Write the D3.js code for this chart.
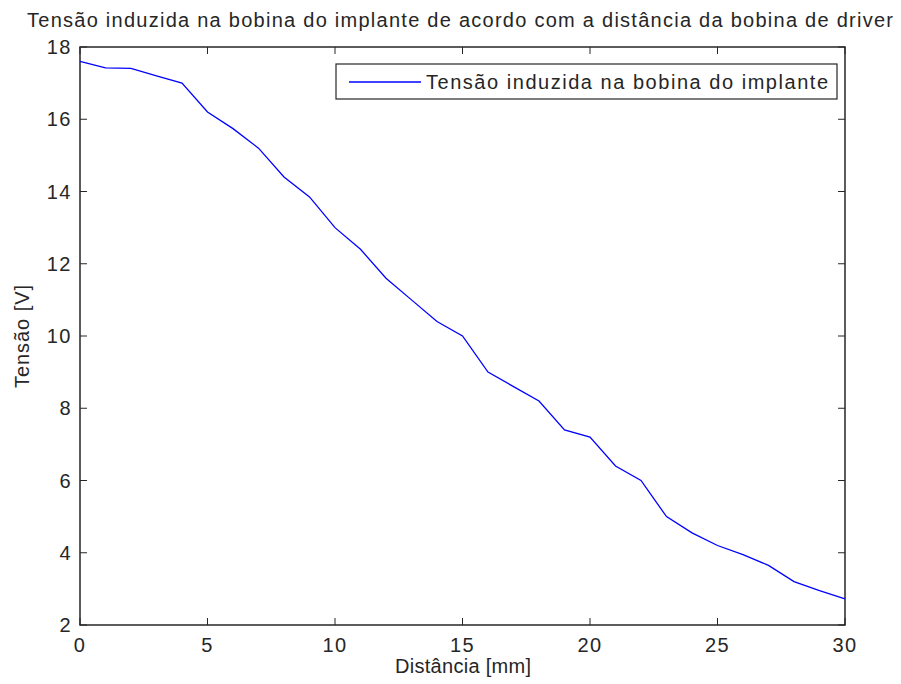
<!DOCTYPE html>
<html><head><meta charset="utf-8">
<script src="https://cdn.jsdelivr.net/npm/d3@7"></script>
<style>body{margin:0;background:#fff}svg{display:block}text{font-family:"Liberation Sans",Arial,sans-serif;fill:#262626}</style>
</head><body><svg id="c" width="901" height="684"></svg>
<script>
const distance = [0,1,2,3,4,5,6,7,8,9,10,11,12,13,14,15,16,17,18,19,20,21,22,23,24,25,26,27,28,29,30];
const voltage = [17.6,17.42,17.41,17.2,17.0,16.2,15.74,15.2,14.4,13.85,13.0,12.4,11.6,11.0,10.4,10.0,9.0,8.6,8.2,7.4,7.2,6.4,6.0,5.0,4.55,4.2,3.95,3.65,3.2,2.95,2.72];
const xTicks = [0,5,10,15,20,25,30];
const yTicks = [2,4,6,8,10,12,14,16,18];
const title = "Tensão induzida na bobina do implante de acordo com a distância da bobina de driver";
const xLabel = "Distância [mm]";
const yLabel = "Tensão [V]";
const legendLabel = "Tensão induzida na bobina do implante";

const L=80,R=845,T=47,B=625;
const FS=20;
const svg=d3.select("#c");
const x=d3.scaleLinear().domain([0,30]).range([L,R]);
const y=d3.scaleLinear().domain([2,18]).range([B,T]);
const tl=7;
const g=svg.append("g");
xTicks.forEach(t=>{
  g.append("line").attr("x1",x(t)).attr("x2",x(t)).attr("y1",B).attr("y2",B-tl).attr("stroke","#262626");
  g.append("line").attr("x1",x(t)).attr("x2",x(t)).attr("y1",T).attr("y2",T+tl).attr("stroke","#262626");
  g.append("text").attr("x",x(t)).attr("y",B+27).attr("text-anchor","middle").attr("font-size",FS).attr("letter-spacing",1.5).text(t);
});
yTicks.forEach(t=>{
  g.append("line").attr("x1",L).attr("x2",L+tl).attr("y1",y(t)).attr("y2",y(t)).attr("stroke","#262626");
  g.append("line").attr("x1",R).attr("x2",R-tl).attr("y1",y(t)).attr("y2",y(t)).attr("stroke","#262626");
  g.append("text").attr("x",L-8).attr("y",y(t)+7).attr("text-anchor","end").attr("font-size",FS).attr("letter-spacing",1.5).text(t);
});
svg.append("rect").attr("x",L).attr("y",T).attr("width",R-L).attr("height",B-T).attr("fill","none").attr("stroke","#262626").attr("stroke-width",1.5);
const line=d3.line().x((d,i)=>x(distance[i])).y(d=>y(d));
svg.append("path").datum(voltage).attr("d",line).attr("fill","none").attr("stroke","#0000ff").attr("stroke-width",1.3);
// legend
svg.append("rect").attr("x",336).attr("y",64).attr("width",501).attr("height",35).attr("fill","#fff").attr("stroke","#262626").attr("stroke-width",1.2);
svg.append("line").attr("x1",349).attr("x2",421).attr("y1",82).attr("y2",82).attr("stroke","#0000ff").attr("stroke-width",1.3);
svg.append("text").attr("x",426).attr("y",89).attr("font-size",FS).attr("textLength",402).attr("lengthAdjust","spacing").text(legendLabel);
svg.append("text").attr("x",27).attr("y",27).attr("font-size",FS).attr("textLength",866).attr("lengthAdjust","spacing").text(title);
svg.append("text").attr("x",395).attr("y",673).attr("font-size",FS).attr("textLength",136).attr("lengthAdjust","spacing").text(xLabel);
svg.append("text").attr("transform","translate(29,388) rotate(-90)").attr("font-size",FS).attr("textLength",103).attr("lengthAdjust","spacing").text(yLabel);
</script></body></html>
